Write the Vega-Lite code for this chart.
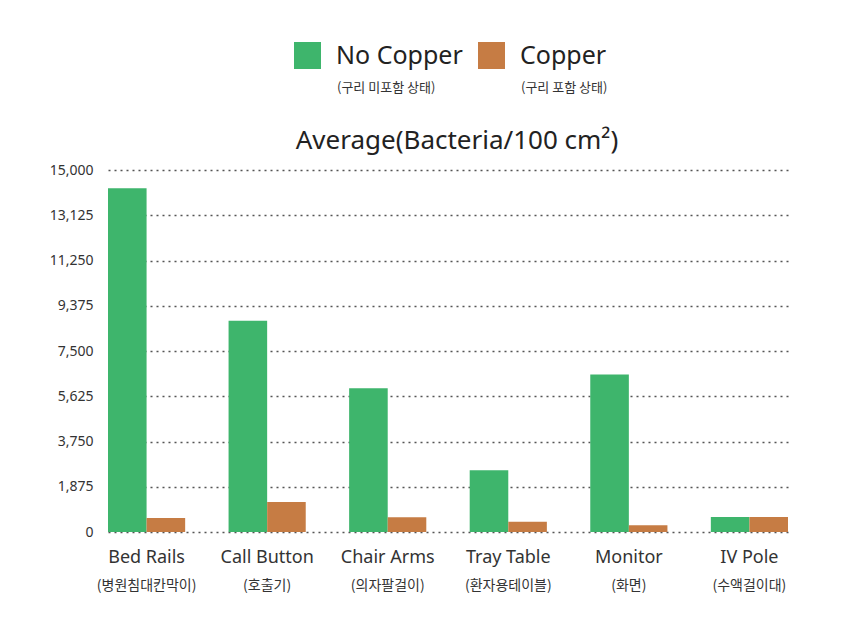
{
  "$schema": "https://vega.github.io/schema/vega-lite/v6.json",
  "width": 680,
  "height": 362,
  "autosize": {"type": "none"},
  "padding": {"left": 108, "top": 170, "right": 58, "bottom": 107},
  "background": "white",
  "title": {
    "text": "Average(Bacteria/100 cm²)",
    "font": "Noto Sans",
    "fontSize": 26,
    "fontWeight": "normal",
    "color": "#222222",
    "anchor": "middle",
    "dx": 9,
    "dy": 116
  },
  "data": {
    "values": [
      {"item": "Bed Rails", "group": "No Copper", "group_kr": "(구리 미포함 상태)", "value": 14245},
      {"item": "Bed Rails", "group": "Copper", "group_kr": "(구리 포함 상태)", "value": 581},
      {"item": "Call Button", "group": "No Copper", "group_kr": "(구리 미포함 상태)", "value": 8753},
      {"item": "Call Button", "group": "Copper", "group_kr": "(구리 포함 상태)", "value": 1245},
      {"item": "Chair Arms", "group": "No Copper", "group_kr": "(구리 미포함 상태)", "value": 5961},
      {"item": "Chair Arms", "group": "Copper", "group_kr": "(구리 포함 상태)", "value": 610},
      {"item": "Tray Table", "group": "No Copper", "group_kr": "(구리 미포함 상태)", "value": 2560},
      {"item": "Tray Table", "group": "Copper", "group_kr": "(구리 포함 상태)", "value": 423},
      {"item": "Monitor", "group": "No Copper", "group_kr": "(구리 미포함 상태)", "value": 6529},
      {"item": "Monitor", "group": "Copper", "group_kr": "(구리 포함 상태)", "value": 278},
      {"item": "IV Pole", "group": "No Copper", "group_kr": "(구리 미포함 상태)", "value": 622},
      {"item": "IV Pole", "group": "Copper", "group_kr": "(구리 포함 상태)", "value": 622}
    ]
  },
  "layer": [
    {
      "mark": {"type": "bar"},
      "encoding": {
        "x": {
          "field": "item",
          "type": "nominal",
          "sort": null,
          "scale": {"paddingInner": 0.36, "paddingOuter": 0},
          "axis": {
            "title": null,
            "orient": "bottom",
            "labelAngle": 0,
            "labelFont": "Noto Sans",
            "labelFontSize": 18,
            "labelColor": "#333333",
            "labelPadding": 16,
            "ticks": false,
            "domain": false,
            "grid": false
          }
        },
        "xOffset": {
          "field": "group",
          "type": "nominal",
          "sort": ["No Copper", "Copper"],
          "scale": {"paddingInner": 0, "paddingOuter": 0}
        },
        "y": {
          "field": "value",
          "type": "quantitative",
          "scale": {"domain": [0, 15000], "nice": false},
          "axis": {
            "title": null,
            "values": [0, 1875, 3750, 5625, 7500, 9375, 11250, 13125, 15000],
            "format": ",.0f",
            "labelFont": "Noto Sans",
            "labelFontSize": 14,
            "labelColor": "#333333",
            "labelPadding": 15,
            "ticks": false,
            "domain": false,
            "grid": true,
            "gridColor": "#555555",
            "gridDash": [2, 4],
            "gridWidth": 1.5
          }
        },
        "color": {
          "field": "group",
          "type": "nominal",
          "scale": {"domain": ["No Copper", "Copper"], "range": ["#3eb56c", "#c67c44"]},
          "legend": {
            "title": null,
            "orient": "none",
            "legendX": 186,
            "legendY": -128,
            "direction": "horizontal",
            "padding": 0,
            "symbolType": "square",
            "symbolSize": 729,
            "symbolStrokeWidth": 0,
            "symbolOpacity": 1,
            "labelFont": "Noto Sans",
            "labelFontSize": 25,
            "labelColor": "#222222",
            "labelOffset": 15,
            "columnPadding": 15
          }
        }
      }
    },
    {
      "mark": {"type": "point", "opacity": 0, "size": 1},
      "encoding": {
        "x": {
          "field": "item",
          "type": "nominal",
          "sort": null,
          "axis": {
            "title": null,
            "orient": "bottom",
            "labelAngle": 0,
            "labelFont": "Noto Sans CJK KR",
            "labelFontSize": 14,
            "labelColor": "#333333",
            "labelPadding": 46,
            "ticks": false,
            "domain": false,
            "grid": false,
            "labelExpr": "datum.value == 'Bed Rails' ? '(병원침대칸막이)' : datum.value == 'Call Button' ? '(호출기)' : datum.value == 'Chair Arms' ? '(의자팔걸이)' : datum.value == 'Tray Table' ? '(환자용테이블)' : datum.value == 'Monitor' ? '(화면)' : '(수액걸이대)'"
          }
        },
        "y": {"field": "value", "type": "quantitative"},
        "shape": {
          "field": "group_kr",
          "type": "nominal",
          "scale": {"domain": ["(구리 미포함 상태)", "(구리 포함 상태)"]},
          "legend": {
            "title": null,
            "orient": "none",
            "legendX": 216,
            "legendY": -89,
            "direction": "horizontal",
            "padding": 0,
            "symbolSize": 0,
            "symbolOpacity": 0,
            "symbolStrokeWidth": 0,
            "labelOffset": 0,
            "labelFont": "Noto Sans CJK KR",
            "labelFontSize": 13,
            "labelColor": "#333333",
            "columnPadding": 72
          }
        }
      }
    }
  ],
  "resolve": {"axis": {"x": "independent"}},
  "config": {
    "view": {"stroke": null}
  }
}
